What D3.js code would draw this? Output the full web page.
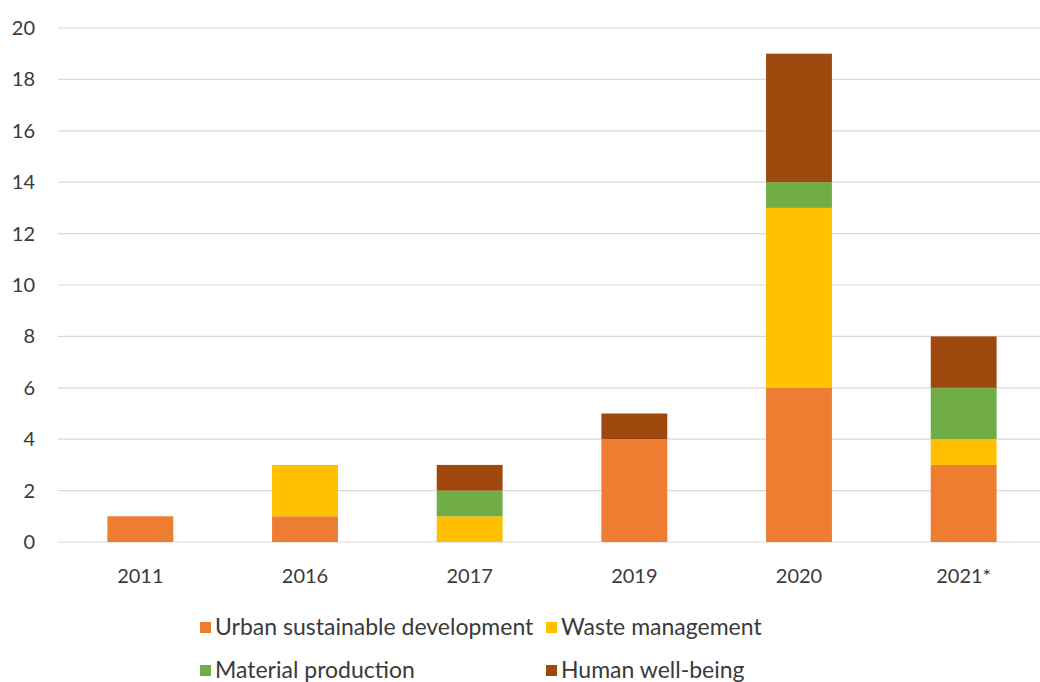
<!DOCTYPE html>
<html>
<head>
<meta charset="utf-8">
<script src="https://cdn.jsdelivr.net/npm/d3@7"></script>
<style>
  body { margin: 0; background: #fff; }
  text { font-family: Lato, "Open Sans", sans-serif; fill: #3a3a3a; }
</style>
</head>
<body>
<div id="chart"></div>
<script>
const svgWidth = 1040;
const svgHeight = 682;

// data
const years = ["2011", "2016", "2017", "2019", "2020", "2021*"];
const seriesNames = ["Urban sustainable development", "Waste management", "Material production", "Human well-being"];
const urban = [1, 1, 0, 4, 6, 3];
const waste = [0, 2, 1, 0, 7, 1];
const material = [0, 0, 1, 0, 1, 2];
const wellBeing = [0, 0, 1, 1, 5, 2];
const yTicks = [0, 2, 4, 6, 8, 10, 12, 14, 16, 18, 20];

const colors = ["#ED7D31", "#FFC000", "#70AD47", "#9E480E"];

const svg = d3.select("#chart")
  .append("svg")
  .attr("width", svgWidth)
  .attr("height", svgHeight);

const margin = {top: 28, left: 58, bottom: 140};
const plotBottom = 542;

const x = d3.scaleBand()
  .domain(years)
  .range([margin.left, 1046])
  .paddingInner(0.6)
  .paddingOuter(0.3);

const y = d3.scaleLinear()
  .domain([0, 20])
  .range([plotBottom, margin.top]);

// gridlines
svg.append("g")
  .selectAll("line")
  .data(yTicks)
  .enter()
  .append("line")
  .attr("x1", margin.left)
  .attr("x2", svgWidth)
  .attr("y1", d => y(d))
  .attr("y2", d => y(d))
  .attr("stroke", "#d9d9d9")
  .attr("stroke-width", 1.2);

// y tick labels
svg.append("g")
  .selectAll("text")
  .data(yTicks)
  .enter()
  .append("text")
  .attr("x", 35)
  .attr("y", d => y(d))
  .attr("dy", "0.35em")
  .attr("text-anchor", "end")
  .style("font-size", "20px")
  .text(d => d);

// stack
const table = years.map((yr, i) => ({
  year: yr,
  [seriesNames[0]]: urban[i],
  [seriesNames[1]]: waste[i],
  [seriesNames[2]]: material[i],
  [seriesNames[3]]: wellBeing[i]
}));

const stacked = d3.stack().keys(seriesNames)(table);

svg.append("g")
  .selectAll("g")
  .data(stacked)
  .enter()
  .append("g")
  .attr("fill", (d, i) => colors[i])
  .selectAll("rect")
  .data(d => d)
  .enter()
  .append("rect")
  .attr("x", d => x(d.data.year))
  .attr("width", x.bandwidth())
  .attr("y", d => y(d[1]))
  .attr("height", d => y(d[0]) - y(d[1]));

// x labels
svg.append("g")
  .selectAll("text")
  .data(years)
  .enter()
  .append("text")
  .attr("x", d => x(d) + x.bandwidth() / 2)
  .attr("y", 576)
  .attr("dy", "0.35em")
  .attr("text-anchor", "middle")
  .style("font-size", "20px")
  .text(d => d);

// legend
const legendPos = [[200, 627], [546, 627], [200, 670], [546, 670]];
const legend = svg.append("g")
  .selectAll("g")
  .data(seriesNames)
  .enter()
  .append("g")
  .attr("transform", (d, i) => `translate(${legendPos[i][0]}, ${legendPos[i][1]})`);

legend.append("rect")
  .attr("x", 0)
  .attr("y", -5)
  .attr("width", 11)
  .attr("height", 11)
  .attr("fill", (d, i) => colors[i]);

legend.append("text")
  .attr("x", 15)
  .attr("y", 0)
  .attr("dy", "0.35em")
  .style("font-size", "23px")
  .text(d => d);
</script>
</body>
</html>
